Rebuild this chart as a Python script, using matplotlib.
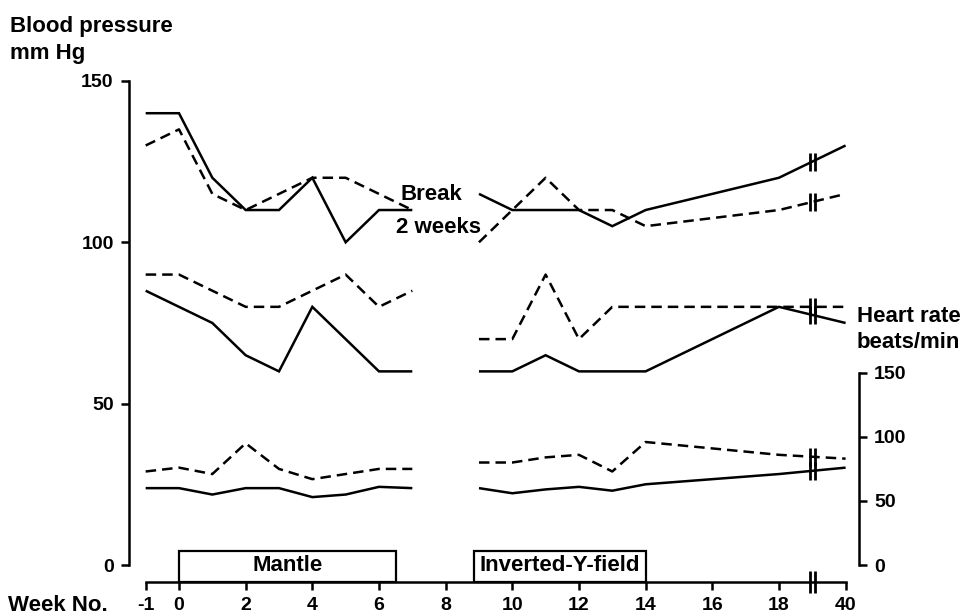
import numpy as np
import matplotlib
matplotlib.use('Agg')
import matplotlib.pyplot as plt
from matplotlib import font_manager
from matplotlib.patches import Rectangle

# ---------------- data ----------------
weeks_a = [-1, 0, 1, 2, 3, 4, 5, 6, 7]
weeks_b = [9, 10, 11, 12, 13, 14, 18, 40]

sys_solid_a = [140, 140, 120, 110, 110, 120, 100, 110, 110]
sys_solid_b = [115, 110, 110, 110, 105, 110, 120, 130]
sys_dashed_a = [130, 135, 115, 110, 115, 120, 120, 115, 110]
sys_dashed_b = [100, 110, 120, 110, 110, 105, 110, 115]

dia_solid_a = [85, 80, 75, 65, 60, 80, 70, 60, 60]
dia_solid_b = [60, 60, 65, 60, 60, 60, 80, 75]
dia_dashed_a = [90, 90, 85, 80, 80, 85, 90, 80, 85]
dia_dashed_b = [70, 70, 90, 70, 80, 80, 80, 80]

hr_solid_a = [60, 60, 55, 60, 60, 53, 55, 61, 60]
hr_solid_b = [60, 56, 59, 61, 58, 63, 71, 76]
hr_dashed_a = [73, 76, 71, 95, 75, 67, 71, 75, 75]
hr_dashed_b = [80, 80, 84, 86, 73, 96, 86, 83]

tick_weeks = [-1, 0, 2, 4, 6, 8, 10, 12, 14, 16, 18, 40]
bp_ticks = [0, 50, 100, 150]
hr_ticks = [0, 50, 100, 150]

treat_names = ['Mantle', 'Inverted-Y-field']
treat_start = [0, 8.85]
treat_end = [6.5, 14]

# ---------------- helpers ----------------
BREAK_POS = 19.0


def pos(w):
    """Broken week axis: week 40 drawn one slot after the break."""
    w = np.asarray(w, dtype=float)
    return np.where(w > 18, 20.0, w)


names = {f.name for f in font_manager.fontManager.ttflist}
if 'Liberation Sans Narrow' in names:
    NUM_FONT = dict(family=['Liberation Sans Narrow', 'DejaVu Sans'], weight='bold', size=15)
else:
    NUM_FONT = dict(family=['Liberation Sans', 'DejaVu Sans'], weight='bold', size=14)
TXT_FONT = dict(family=['Liberation Sans', 'DejaVu Sans'], weight='bold', size=16)

plt.rcParams['font.family'] = ['Liberation Sans', 'DejaVu Sans']

W, H = 974, 616
fig = plt.figure(figsize=(W / 100, H / 100), dpi=100)

# axes geometry in pixels
px_per_week = 33.33
x0_px = 179.0          # pixel of week 0
XLIM = (-1.5, 21.0)
BP_LIM = (-5.3, 164.0)
px_per_bp = 3.227
bp0_px = 565.0         # pixel (from top) of BP 0
left_px = x0_px + XLIM[0] * px_per_week
right_px = x0_px + XLIM[1] * px_per_week
bot_px = bp0_px - BP_LIM[0] * px_per_bp
top_px = bp0_px - BP_LIM[1] * px_per_bp
ax = fig.add_axes([left_px / W, 1 - bot_px / H, (right_px - left_px) / W, (bot_px - top_px) / H])
ax.set_xlim(*XLIM)
ax.set_ylim(*BP_LIM)

K = 0.397  # HR units -> BP units on the drawing
ax2 = ax.twinx()
ax2.set_ylim(BP_LIM[0] / K, BP_LIM[1] / K)

LW = 1.8
DASH = (0, (4.2, 2.4))


def draw(a, xs, ys, dashed):
    ls = DASH if dashed else '-'
    a.plot(pos(xs), ys, color='black', lw=LW, linestyle=ls, solid_capstyle='butt',
           dash_capstyle='butt', solid_joinstyle='miter', clip_on=False)


def break_mark(a, xs, ys):
    y19 = np.interp(BREAK_POS, pos(xs), ys)
    a.plot([BREAK_POS - 0.08, BREAK_POS + 0.08], [y19, y19], ls='none', marker='|',
           ms=13, mew=2.0, color='black', clip_on=False)


for ya, yb, dashed in [(sys_solid_a, sys_solid_b, False), (sys_dashed_a, sys_dashed_b, True),
                       (dia_solid_a, dia_solid_b, False), (dia_dashed_a, dia_dashed_b, True)]:
    draw(ax, weeks_a, ya, dashed)
    draw(ax, weeks_b, yb, dashed)
    break_mark(ax, weeks_b, yb)

for ya, yb, dashed in [(hr_solid_a, hr_solid_b, False), (hr_dashed_a, hr_dashed_b, True)]:
    draw(ax2, weeks_a, ya, dashed)
    draw(ax2, weeks_b, yb, dashed)
    break_mark(ax2, weeks_b, yb)

# treatment boxes
box_top = 4.3
for name, s, e in zip(treat_names, treat_start, treat_end):
    ax.add_patch(Rectangle((s, BP_LIM[0]), e - s, box_top - BP_LIM[0], fill=False,
                           edgecolor='black', lw=1.6, clip_on=False, zorder=3))
    ax.text((s + e) / 2, (box_top + BP_LIM[0]) / 2 + 0.2, name, ha='center', va='center', **TXT_FONT)

# spines
for sp in ['top', 'right']:
    ax.spines[sp].set_visible(False)
ax.spines['left'].set_bounds(0, 150)
ax.spines['bottom'].set_bounds(-1, 20)
ax.spines['left'].set_linewidth(1.8)
ax.spines['bottom'].set_linewidth(1.8)
for sp in ['top', 'left', 'bottom']:
    ax2.spines[sp].set_visible(False)
ax2.spines['right'].set_position(('data', 20.4))
ax2.spines['right'].set_bounds(0, 150)
ax2.spines['right'].set_linewidth(1.8)

ax.set_xticks(pos(tick_weeks))
ax.set_xticklabels([str(w) for w in tick_weeks], **NUM_FONT)
ax.set_yticks(bp_ticks)
ax.set_yticklabels([str(v) for v in bp_ticks], **NUM_FONT)
ax2.set_yticks(hr_ticks)
ax2.set_yticklabels([str(v) for v in hr_ticks], **NUM_FONT)
ax.tick_params(axis='x', direction='out', length=6, width=1.8, pad=5)
ax.tick_params(axis='y', direction='out', length=6, width=1.8, pad=5)
ax2.tick_params(axis='y', direction='out', length=6, width=1.8, pad=5)

# x-axis break mark
ax.plot([BREAK_POS - 0.08, BREAK_POS + 0.08], [BP_LIM[0]] * 2, ls='none', marker='|',
        ms=16, mew=2.0, color='black', clip_on=False)

# labels
fig.text(10 / W, 1 - 32 / H, 'Blood pressure', ha='left', va='baseline', **TXT_FONT)
fig.text(10 / W, 1 - 59 / H, 'mm Hg', ha='left', va='baseline', **TXT_FONT)
fig.text(857 / W, 1 - 322 / H, 'Heart rate', ha='left', va='baseline', **TXT_FONT)
fig.text(857 / W, 1 - 348 / H, 'beats/min', ha='left', va='baseline', **TXT_FONT)
fig.text(8 / W, 1 - 611 / H, 'Week No.', ha='left', va='baseline', **TXT_FONT)
fig.text(400 / W, 1 - 200 / H, 'Break', ha='left', va='baseline', **TXT_FONT)
fig.text(396 / W, 1 - 233 / H, '2 weeks', ha='left', va='baseline', **TXT_FONT)

fig.savefig('out.png', dpi=100, facecolor='white')
